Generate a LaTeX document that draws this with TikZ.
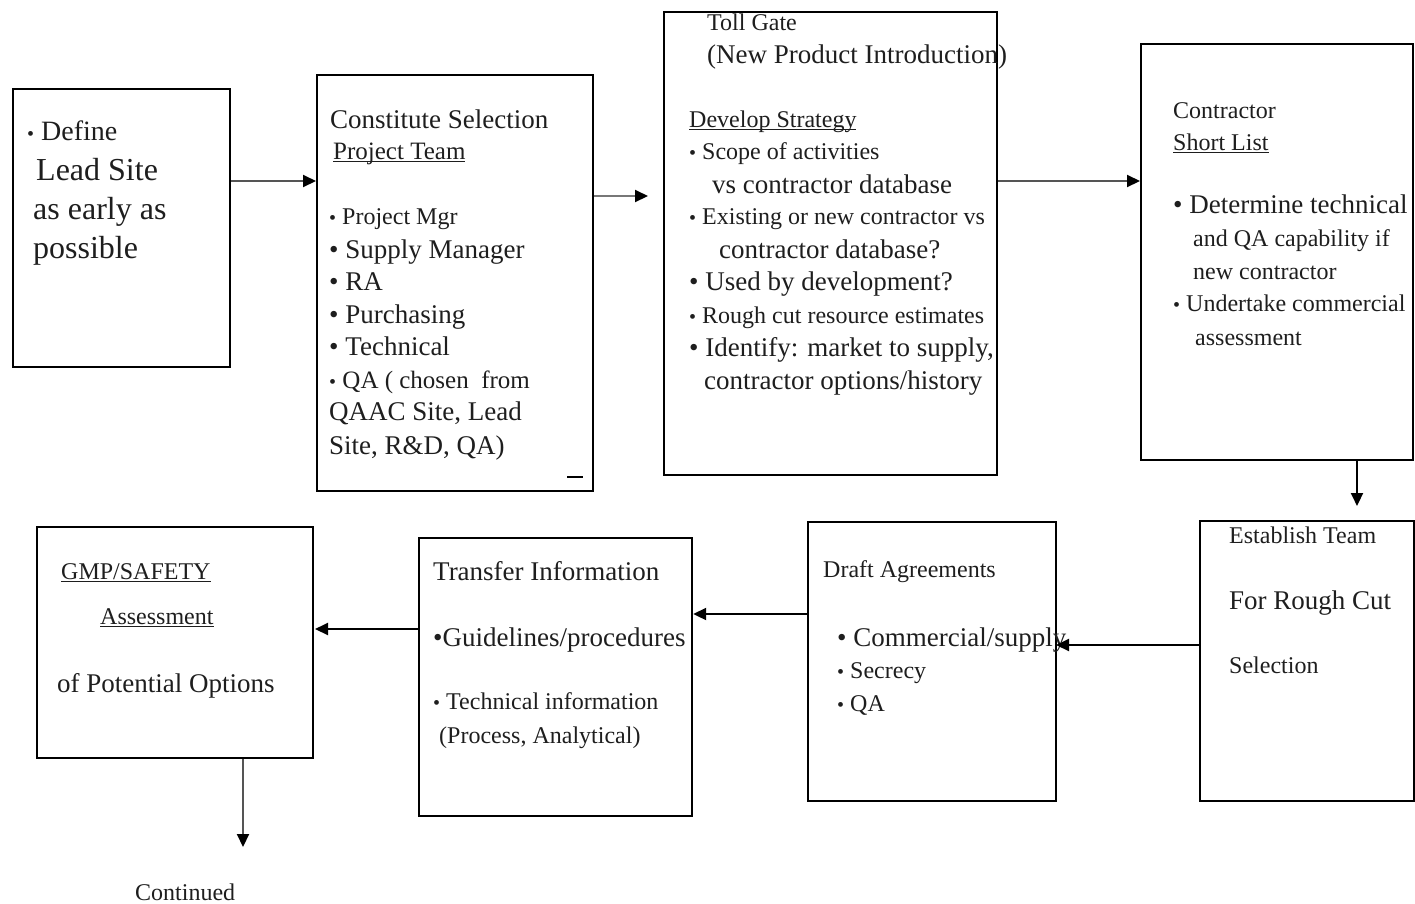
\documentclass[tikz,border=0pt]{standalone}
\usepackage{fontspec}
\setmainfont{Liberation Serif}
\usetikzlibrary{arrows.meta}
\definecolor{txt}{HTML}{1E1E1E}
\definecolor{gline}{HTML}{555555}
\newcommand\ulin[1]{\setbox0\hbox{#1}\rlap{\rule[-3pt]{\wd0}{1.3pt}}\box0}
\newcommand\sbul{{\fontsize{20}{20}\selectfont•}}
\begin{document}
\begin{tikzpicture}[x=1pt,y=-1pt,
  box/.style={draw=black, line width=2.2pt, inner sep=0pt, anchor=north west},
  arr/.style={draw=#1, line width=2pt, -{Triangle[length=13pt,width=12pt,color=black]}},
  arr/.default=black,
  tbase/.style={anchor=west, inner sep=0pt, text depth=0pt, text=txt},
  ta/.style={tbase, font=\fontsize{24}{28}\selectfont, text height=16pt},
  tb/.style={tbase, font=\fontsize{27}{31}\selectfont, text height=18pt},
  tc/.style={tbase, font=\fontsize{32}{36}\selectfont, text height=21pt},
  td/.style={tbase, font=\fontsize{28}{32}\selectfont, text height=18.5pt}]
\useasboundingbox (0,0) rectangle (1415,903);
% boxes
\node[box, minimum width=217pt, minimum height=278pt] (A) at (12,88) {};
\node[box, minimum width=276pt, minimum height=416pt] (B) at (316,74) {};
\node[box, minimum width=333pt, minimum height=463pt] (C) at (663,11) {};
\node[box, minimum width=272pt, minimum height=416pt] (D) at (1140,43) {};
\node[box, minimum width=214pt, minimum height=280pt] (E) at (1199,520) {};
\node[box, minimum width=248pt, minimum height=279pt] (F) at (807,521) {};
\node[box, minimum width=273pt, minimum height=278pt] (G) at (418,537) {};
\node[box, minimum width=276pt, minimum height=231pt] (H) at (36,526) {};
% box A text
\node[td] (a1) at (27,131) {\sbul{} Define};
\node[tc] (a2) at (36,170) {Lead Site};
\node[tc] (a3) at (33,209) {as early as};
\node[tc] (a4) at (33,248) {possible};
% box B text
\node[tb] (b1) at (330,119) {Constitute Selection};
\node[tbase, font=\fontsize{25}{29}\selectfont, text height=16.5pt] (b2) at (333,151) {\ulin{Project Team}};
\node[ta] (b3) at (329,216) {\sbul{} Project Mgr};
\node[tb] (b4) at (329,249) {• Supply Manager};
\node[tb] (b5) at (329,281) {• RA};
\node[tb] (b6) at (329,314) {• Purchasing};
\node[tb] (b7) at (329,346) {• Technical};
\node[tbase, font=\fontsize{25}{29}\selectfont, text height=16.5pt] (b8) at (329,380) {\sbul{} QA ( chosen\ \ from};
\node[tb] (b9) at (329,411) {QAAC Site, Lead};
\node[tb] (b10) at (329,445) {Site, R\&D, QA)};
\draw[line width=1.5pt] (567,477) -- (583,477);
% box C text
\node[ta] (c1) at (707,22) {Toll Gate};
\node[tb] (c2) at (707,54) {(New Product Introduction)};
\node[ta] (c3) at (689,119) {\ulin{Develop Strategy}};
\node[ta] (c4) at (689,151) {\sbul{} Scope of activities};
\node[tb] (c5) at (712,184) {vs contractor database};
\node[ta] (c6) at (689,216) {\sbul{} Existing or new contractor vs};
\node[tb] (c7) at (719,249) {contractor database?};
\node[tb] (c8) at (689,281) {• Used by development?};
\node[ta] (c9) at (689,315) {\sbul{} Rough cut resource estimates};
\node[tb] (c10) at (689,347) {• Identify: market to supply,};
\node[tb] (c11) at (704,380) {contractor options/history};
% box D text
\node[ta] (d1) at (1173,110) {Contractor};
\node[ta] (d2) at (1173,142) {\ulin{Short List}};
\node[tb] (d3) at (1173,204) {• Determine technical};
\node[ta] (d4) at (1193,238) {and QA capability if};
\node[ta] (d5) at (1193,271) {new contractor};
\node[ta] (d6) at (1173,303) {\sbul{} Undertake commercial};
\node[ta] (d7) at (1195,337) {assessment};
% box E text
\node[ta] (e1) at (1229,535) {Establish Team};
\node[tb] (e2) at (1229,600) {For Rough Cut};
\node[ta] (e3) at (1229,665) {Selection};
% box F text
\node[ta] (f1) at (823,569) {Draft Agreements};
\node[tb] (f2) at (837,637) {• Commercial/supply};
\node[ta] (f3) at (837,670) {\sbul{} Secrecy};
\node[ta] (f4) at (837,703) {\sbul{} QA};
% box G text
\node[tb] (g1) at (433,571) {Transfer Information};
\node[tb] (g2) at (433,637) {•Guidelines/procedures};
\node[ta] (g3) at (433,701) {\sbul{} Technical information};
\node[ta] (g4) at (439,735) {(Process, Analytical)};
% box H text
\node[ta] (h1) at (61,571) {\ulin{GMP/SAFETY}};
\node[ta] (h2) at (100,616) {\ulin{Assessment}};
\node[tb] (h3) at (57,683) {of Potential Options};
\node[ta] (cont) at (135,892) {Continued};
% connectors
\coordinate (bcEnd) at (648,196);
\coordinate (deEnd) at (1357,506);
\coordinate (hEnd) at (243,847);
\draw[arr=gline] (A.east |- 0,181) -- (B.west |- 0,181);
\draw[arr=gline!80] (B.east |- bcEnd) -- (bcEnd);
\draw[arr=gline] (C.east |- 0,181) -- (D.west |- 0,181);
\draw[arr] (D.south -| deEnd) -- (deEnd);
\draw[arr] (E.west |- 0,645) -- (1056,645);
\draw[arr] (F.west |- 0,614) -- (G.east |- 0,614);
\draw[arr] (G.west |- 0,629) -- (315,629);
\draw[arr=gline] (H.south -| hEnd) -- (hEnd);
\end{tikzpicture}
\end{document}
